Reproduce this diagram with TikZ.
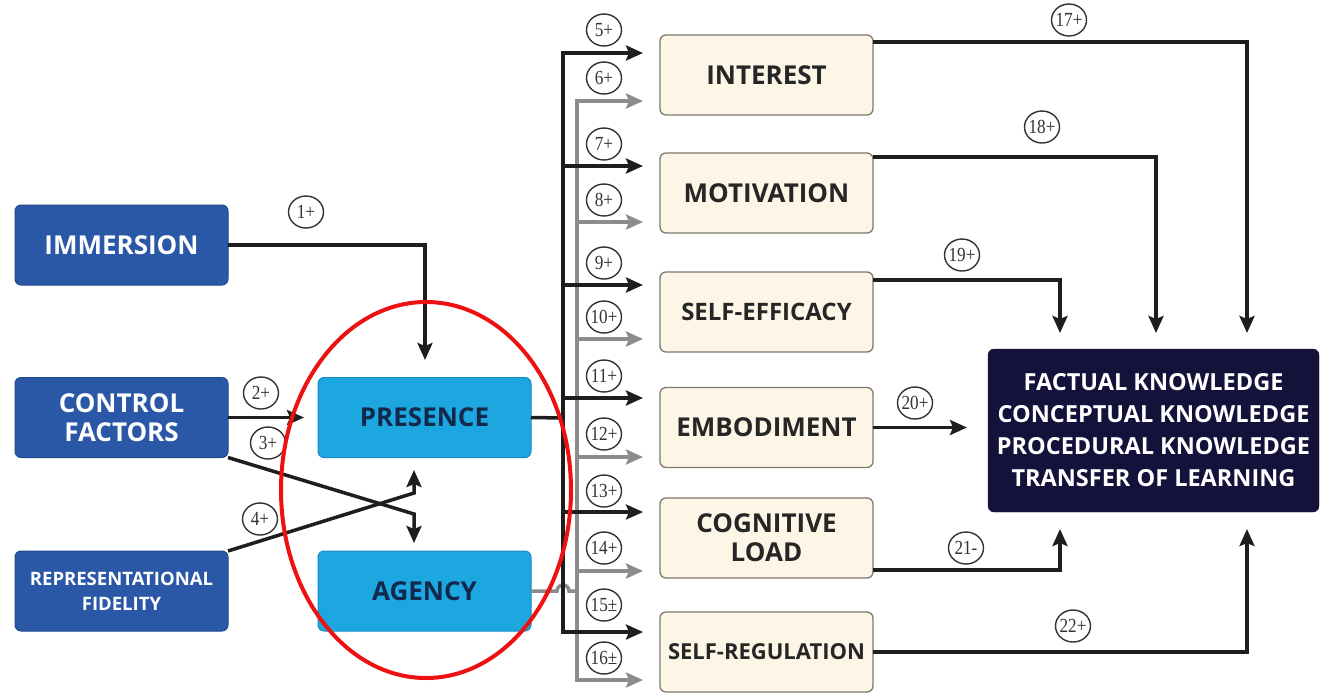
\documentclass[tikz,border=0pt]{standalone}
\usepackage{fontspec}
\usepackage{graphicx}
\setmainfont{Open Sans}
\newfontfamily\labfont{Liberation Serif}
\newcommand{\lbtxt}[1]{\makebox[0pt]{\scalebox{0.86}[1]{#1}}}
\usetikzlibrary{arrows.meta,calc,shapes.geometric}
\definecolor{dblue}{HTML}{2A58A6}
\definecolor{dblueb}{HTML}{1E4A8E}
\definecolor{lblue}{HTML}{1DA7E1}
\definecolor{lblueb}{HTML}{168CC0}
\definecolor{navytext}{HTML}{13294B}
\definecolor{cream}{HTML}{FDF5E6}
\definecolor{creamb}{HTML}{7F7A6E}
\definecolor{outc}{HTML}{14123A}
\definecolor{gline}{HTML}{8C8C8C}
\definecolor{bline}{HTML}{1E1E1E}
\definecolor{ringred}{HTML}{EE1111}
\begin{document}
\begin{tikzpicture}[x=1pt,y=-1pt,
 box/.style={rounded corners=6pt, minimum width=213pt, minimum height=80pt, inner sep=0pt, outer sep=0pt, align=center},
 dbox/.style={box, fill=dblue, draw=dblueb, line width=1pt, text=white},
 lbox/.style={box, fill=lblue, draw=lblueb, line width=1pt, text=navytext},
 cbox/.style={box, fill=cream, draw=creamb, line width=1.3pt, text=black!85},
 obox/.style={box, fill=outc, draw=outc, minimum width=331pt, minimum height=163pt, text=white},
 big/.style={font=\bfseries\fontsize{26}{29}\selectfont},
 mid/.style={font=\bfseries\fontsize{26}{29}\selectfont},
 sml/.style={font=\bfseries\fontsize{22}{26}\selectfont},
 tiny/.style={font=\bfseries\fontsize{18.5}{25}\selectfont},
 conn/.style={draw=bline, line width=3.5pt, -{Stealth[length=17pt,width=15pt,inset=3pt]}},
 gconn/.style={conn, draw=gline},
 plain/.style={draw=bline, line width=3.5pt},
 gplain/.style={draw=gline, line width=3.5pt},
 lab/.style={ellipse, draw=black!80, line width=1.4pt, minimum width=35pt, minimum height=32pt, inner sep=0pt, font=\labfont\fontsize{20}{20}\selectfont, text=black!80}
]
\useasboundingbox (0,0) rectangle (1320,697);

% nodes
\node[dbox, big] (imm) at (121.5,245) {IMMERSION};
\node[dbox, big] (ctrl) at (121.5,417.5) {CONTROL\\FACTORS};
\node[dbox, tiny] (rep) at (121.5,591) {REPRESENTATIONAL\\FIDELITY};
\node[lbox, mid] (pres) at (424.5,417.5) {PRESENCE};
\node[lbox, mid] (agen) at (424.5,591) {AGENCY};

\node[cbox, mid] (int) at (766.5,75) {INTEREST};
\node[cbox, mid] (mot) at (766.5,193) {MOTIVATION};
\node[cbox, font=\bfseries\fontsize{24}{28}\selectfont] (se) at (766.5,312) {SELF-EFFICACY};
\node[cbox, mid] (emb) at (766.5,427.5) {EMBODIMENT};
\node[cbox, mid] (cog) at (766.5,538) {COGNITIVE\\LOAD};
\node[cbox, sml] (sr) at (766.5,652) {SELF-REGULATION};
\node[obox, font=\bfseries\fontsize{23.5}{32}\selectfont] (out) at (1153.5,430.5) {FACTUAL KNOWLEDGE\\CONCEPTUAL KNOWLEDGE\\PROCEDURAL KNOWLEDGE\\TRANSFER OF LEARNING};

% coordinates
\coordinate (t1) at (425,360);
\coordinate (t2) at (304,418);
\coordinate (b3) at (414,514);
\coordinate (t3) at (414,543);
\coordinate (b4) at (414,493);
\coordinate (t4) at (414,470);
\coordinate (bj) at (563,418);
\coordinate (gj) at (577,591);
\foreach \n/\y in {5/53,7/166,9/285,11/398,13/512,15/632}{
  \coordinate (ta\n) at (643,\y);
  \coordinate (ba\n) at (563,\y);
}
\foreach \n/\y in {6/101,8/222,10/339,12/457,14/571,16/680}{
  \coordinate (ta\n) at (643,\y);
  \coordinate (ga\n) at (577,\y);
}
\coordinate (t17) at (1247,333);
\coordinate (t18) at (1156,333);
\coordinate (t19) at (1060,333);
\coordinate (t20) at (967,427.5);
\coordinate (t21) at (1060,529);
\coordinate (t22) at (1247,529);

% left connectors
\draw[conn] (imm.east) -| (t1);
\draw[conn] (ctrl.east) -- (ctrl.east -| t2);
\draw[conn] (ctrl.south east) -- (b3) -- (t3);
\draw[conn] (rep.north east) -- (b4) -- (t4);

% gray bus
\draw[gplain] (agen.east) -- (557,591) arc[start angle=180,end angle=360,radius=6] -- (gj);
\draw[gconn] (gj) |- (ta6);
\draw[gconn] (gj) |- (ta16);
\foreach \n in {8,10,12,14}{\draw[gconn] (ga\n) -- (ta\n);}

% black bus
\draw[plain] (pres.east) -- (bj);
\draw[conn] (bj) |- (ta5);
\draw[conn] (bj) |- (ta15);
\foreach \n in {7,9,11,13}{\draw[conn] (ba\n) -- (ta\n);}

% right connectors
\draw[conn] ($(int.north east)+(0,7)$) -| (t17);
\draw[conn] ($(mot.north east)+(0,4)$) -| (t18);
\draw[conn] ($(se.north east)+(0,8)$) -| (t19);
\draw[conn] (emb.east) -- (t20);
\draw[conn] ($(cog.south east)+(0,-8)$) -| (t21);
\draw[conn] (sr.east) -| (t22);

% labels
\node[lab] (l1) at (306,212) {\lbtxt{1+}};
\node[lab] (l2) at (261,393) {\lbtxt{2+}};
\node[lab] (l3) at (268,443) {\lbtxt{3+}};
\node[lab] (l4) at (260,519) {\lbtxt{4+}};
\foreach \t/\y in {5+/30,6+/78,7+/144,8+/200,9+/263,10+/317,11+/376,12+/434,13+/491,14+/548,15±/605,16±/658}{
  \node[lab] (l\t) at (604,\y) {\lbtxt{\t}};
}
\node[lab] (l17) at (1069,20) {\lbtxt{17+}};
\node[lab] (l18) at (1042,127) {\lbtxt{18+}};
\node[lab] (l19) at (962,255) {\lbtxt{19+}};
\node[lab] (l20) at (915,403) {\lbtxt{20+}};
\node[lab] (l21) at (966,548) {\lbtxt{21-}};
\node[lab] (l22) at (1073,626) {\lbtxt{22+}};

% red ring
\draw[ringred, line width=4pt] (426,490) ellipse [x radius=145, y radius=188];
\end{tikzpicture}
\end{document}
